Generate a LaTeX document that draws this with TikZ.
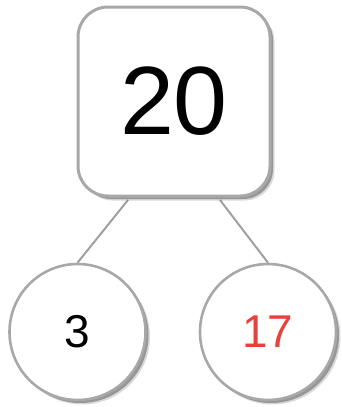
\documentclass[tikz,border=0pt]{standalone}
\usepackage{fontspec}
\setmainfont{Liberation Sans}
\usetikzlibrary{shadows}
\definecolor{bordergray}{HTML}{A8A8A8}
\definecolor{linegray}{HTML}{A0A0A0}
\definecolor{numred}{HTML}{E8403A}
\begin{document}
\begin{tikzpicture}[x=1pt,y=-1pt,
  softshadow/.style={
    drop shadow={shadow xshift=4.5pt,shadow yshift=-4.5pt,opacity=0.15,fill=black},
    drop shadow={shadow xshift=3pt,shadow yshift=-3pt,opacity=0.3,fill=black}},
  topbox/.style={draw=bordergray,line width=3pt,fill=white,rounded corners=30pt,
    minimum width=192pt,minimum height=189pt,inner sep=0pt,softshadow},
  partcircle/.style={circle,draw=bordergray,line width=2.6pt,fill=white,
    minimum size=136pt,inner sep=0pt,softshadow},
  link/.style={draw=linegray,line width=2pt}]
\useasboundingbox (0,0) rectangle (342,407);
\coordinate (lt) at (128,200);
\coordinate (rt) at (220,200);
\node[partcircle,font=\fontsize{46}{50}\selectfont] (left) at (77.5,332) {3};
\node[partcircle,font=\fontsize{46}{50}\selectfont,text=numred] (right) at (268,332) {17};
\draw[link] (lt) -- (left.north);
\draw[link] (rt) -- (right.north);
\node[topbox,font=\fontsize{97}{100}\selectfont] (top) at (174,101.5) {20};
\end{tikzpicture}
\end{document}
